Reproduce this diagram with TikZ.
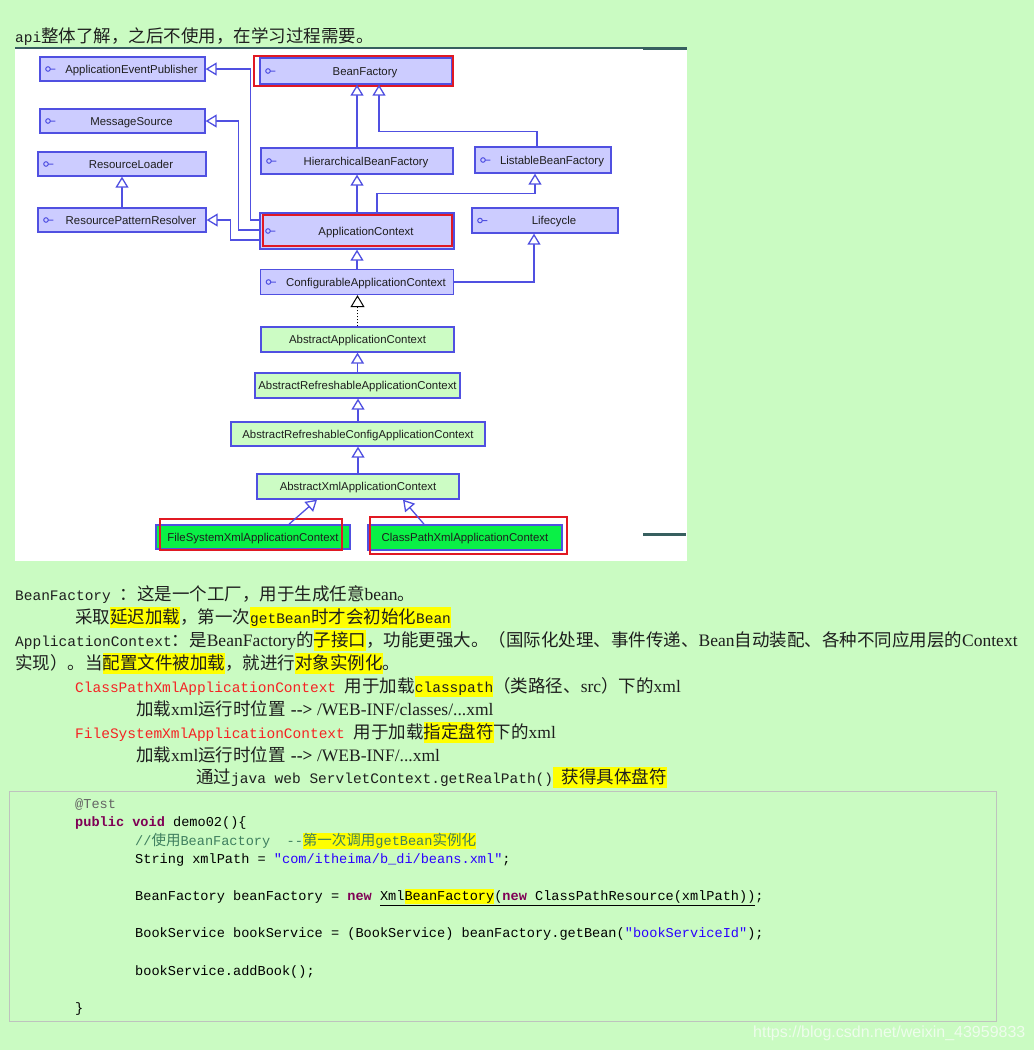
\documentclass[tikz,border=0pt]{standalone}
\usepackage{fontspec}
\setmainfont{Liberation Serif}
\newfontfamily\cjkf{Noto Sans CJK SC}
\newfontfamily\monof{Liberation Mono}
\newfontfamily\dsansf{Liberation Sans}
\usetikzlibrary{arrows.meta}
\definecolor{pagebg}{RGB}{202,251,194}
\definecolor{ifill}{RGB}{204,204,255}
\definecolor{bbord}{RGB}{80,80,225}
\definecolor{cfill}{RGB}{204,252,196}
\definecolor{gfill}{RGB}{10,240,70}
\definecolor{rbox}{RGB}{225,25,35}
\definecolor{dtext}{RGB}{30,30,30}
\definecolor{teal1}{RGB}{55,95,95}
\definecolor{hly}{RGB}{255,255,0}
\definecolor{redt}{RGB}{245,35,35}
\definecolor{kwc}{RGB}{127,0,85}
\definecolor{cmt}{RGB}{63,127,95}
\definecolor{strc}{RGB}{42,0,255}
\definecolor{anno}{RGB}{100,100,100}
\definecolor{cbord}{RGB}{190,195,190}
\definecolor{wmark}{RGB}{238,252,236}
\newcommand\tzh[1]{{\fontsize{17.5}{20}\selectfont\cjkf#1}}
\newcommand\tmo[1]{{\fontsize{14.5}{17}\selectfont\monof#1}}
\newcommand\tse[1]{{\fontsize{17.5}{20}\selectfont\rmfamily#1}}
\newcommand\hlt[1]{{\setlength\fboxsep{0pt}\colorbox{hly}{\rule[-5pt]{0pt}{21pt}#1}}}
\newcommand\czh[1]{{\fontsize{14.5}{16}\selectfont\cjkf#1}}
\newcommand\hlc[1]{{\setlength\fboxsep{0pt}\colorbox{hly}{\rule[-3pt]{0pt}{15pt}#1}}}
\newcommand\kw[1]{\textcolor{kwc}{\bfseries#1}}
\begin{document}
\begin{tikzpicture}[x=1pt,y=-1pt,
  iface/.style={draw=bbord, fill=ifill, line width=1.3pt, inner sep=0pt, text=dtext,
    text height=8pt, text depth=0pt,
    font=\dsansf\fontsize{11.4}{13}\selectfont,
    path picture={\draw[bbord,line width=1pt] ([xshift=8pt]path picture bounding box.west) circle[radius=2.3pt] ([xshift=10.3pt]path picture bounding box.west) -- ++(5pt,0pt);}},
  cls/.style={draw=bbord, fill=cfill, line width=1.3pt, inner sep=0pt, text=dtext,
    text height=8pt, text depth=0pt,
    font=\dsansf\fontsize{11.4}{13}\selectfont},
  leaf/.style={cls, fill=gfill, line width=1.6pt},
  inh/.style={draw=bbord, line width=1.3pt, -{Triangle[length=11pt,width=13pt,fill=white]}},
  impl/.style={draw=black, line width=1pt, dash pattern=on 1pt off 2pt, -{Triangle[length=12pt,width=14pt,fill=white]}},
  hlbox/.style={draw=rbox, line width=2.2pt},
  txt/.style={anchor=base west, inner sep=0pt, text=dtext},
  code/.style={anchor=base west, inner sep=0pt, text=black, font=\fontsize{13.6}{16}\selectfont\monof},
]
\fill[pagebg] (0,0) rectangle (1034,1050);
\useasboundingbox (0,0) rectangle (1034,1050);

% diagram panel
\fill[white] (15,47) rectangle (687,561);
\draw[teal1, line width=1.3pt] (15,48) -- (687,48);
\draw[teal1, line width=3pt] (643,48) -- (687,48);
\draw[teal1, line width=3pt] (643,534) -- (686,534);

% interfaces
\node[iface, minimum width=165pt, minimum height=24pt] (aep) at (122.5,69) {\hspace*{18pt}ApplicationEventPublisher};
\node[iface, minimum width=192pt, minimum height=26pt] (bf) at (356,71) {\hspace*{18pt}BeanFactory};
\node[iface, minimum width=165pt, minimum height=24pt] (ms) at (122.5,121) {\hspace*{18pt}MessageSource};
\node[iface, minimum width=168pt, minimum height=24pt] (rl) at (122,164) {\hspace*{18pt}ResourceLoader};
\node[iface, minimum width=192pt, minimum height=26pt] (hbf) at (357,161) {\hspace*{18pt}HierarchicalBeanFactory};
\node[iface, minimum width=136pt, minimum height=26pt] (lbf) at (543,160) {\hspace*{18pt}ListableBeanFactory};
\node[iface, minimum width=168pt, minimum height=24pt] (rpr) at (122,220) {\hspace*{18pt}ResourcePatternResolver};
\node[iface, minimum width=194pt, minimum height=36pt] (ac) at (357,231) {\hspace*{18pt}ApplicationContext};
\node[iface, minimum width=146pt, minimum height=25pt] (lc) at (545,220.5) {\hspace*{18pt}Lifecycle};
\node[iface, minimum width=193pt, minimum height=25pt] (cac) at (357,282) {\hspace*{18pt}ConfigurableApplicationContext};

% classes
\node[cls, minimum width=193pt, minimum height=25pt] (aac) at (357.5,339.5) {AbstractApplicationContext};
\node[cls, minimum width=205pt, minimum height=25pt] (arac) at (357.5,385.5) {AbstractRefreshableApplicationContext};
\node[cls, minimum width=254pt, minimum height=24pt] (arcac) at (358,434) {AbstractRefreshableConfigApplicationContext};
\node[cls, minimum width=202pt, minimum height=25pt] (axac) at (358,486.5) {AbstractXmlApplicationContext};
\node[leaf, minimum width=194pt, minimum height=24pt] (fs) at (253,537) {FileSystemXmlApplicationContext};
\node[leaf, minimum width=194pt, minimum height=25pt] (cp) at (465,537.5) {ClassPathXmlApplicationContext};

% red highlight frames
\draw[hlbox] (254,56) rectangle (453,86);
\draw[hlbox] (263,215) rectangle (452,246);
\draw[hlbox] (160,519) rectangle (342,550);
\draw[hlbox] (370,517) rectangle (567,554);

% connectors
\draw[inh] (hbf.north) -- (hbf.north |- bf.south);
\draw[inh] ([xshift=-6pt]lbf.north) -- ++(0,-15) -| ([xshift=23pt]bf.south);
\draw[inh] (ac.north) -- (ac.north |- hbf.south);
\draw[inh] ([xshift=20pt]ac.north) -- ++(0,-19) -| ([xshift=-8pt]lbf.south);
\draw[inh] ([yshift=11pt]ac.west) -- ++(-9,0) |- (aep.east);
\draw[inh] ([yshift=1pt]ac.west) -- ++(-21,0) |- (ms.east);
\draw[inh] ([yshift=-9pt]ac.west) -- ++(-29,0) |- (rpr.east);
\draw[inh] (rpr.north) -- (rpr.north |- rl.south);
\draw[inh] (cac.north) -- (cac.north |- ac.south);
\draw[inh] (cac.east) -| ([xshift=-11pt]lc.south);
\draw[impl] (aac.north) -- (aac.north |- cac.south);
\draw[inh] (arac.north) -- (arac.north |- aac.south);
\draw[inh] (arcac.north) -- (arcac.north |- arac.south);
\draw[inh] (axac.north) -- (axac.north |- arcac.south);
\draw[inh] ([xshift=36pt]fs.north) -- ([xshift=-41pt]axac.south);
\draw[inh] ([xshift=-41pt]cp.north) -- ([xshift=45pt]axac.south);

% body text
\node[txt] (l1) at (15,42) {\tmo{api}\tzh{整体了解，之后不使用，在学习过程需要。}};
\node[txt] (l2) at (15,600) {\tmo{BeanFactory}\hspace{8.7pt}\tzh{：这是一个工厂，用于生成任意}\tse{bean}\tzh{。}};
\node[txt] (l3) at (75,623) {\tzh{采取}\hlt{\tzh{延迟加载}}\tzh{，第一次}\hlt{\tmo{getBean}\tzh{时才会初始化}\tmo{Bean}}};
\node[txt] (l4) at (15,646) {\tmo{ApplicationContext}\tzh{：是}\tse{BeanFactory}\tzh{的}\hlt{\tzh{子接口}}\tzh{，功能更强大。（国际化处理、事件传递、}\tse{Bean}\tzh{自动装配、各种不同应用层的}\tse{Context}};
\node[txt] (l5) at (15,669) {\tzh{实现）。当}\hlt{\tzh{配置文件被加载}}\tzh{，就进行}\hlt{\tzh{对象实例化}}\tzh{。}};
\node[txt] (l6) at (75,692) {\textcolor{redt}{\tmo{ClassPathXmlApplicationContext}}\hspace{8.7pt}\tzh{用于加载}\hlt{\tmo{classpath}}\tzh{（类路径、}\tse{src}\tzh{）下的}\tse{xml}};
\node[txt] (l7) at (136,715) {\tzh{加载}\tse{xml}\tzh{运行时位置}\hspace{5pt}\tse{\textbf{-\kern0pt-\kern0pt>}\hspace{4.5pt}/WEB-INF/classes/...xml}};
\node[txt] (l8) at (75,738) {\textcolor{redt}{\tmo{FileSystemXmlApplicationContext}}\hspace{8.7pt}\tzh{用于加载}\hlt{\tzh{指定盘符}}\tzh{下的}\tse{xml}};
\node[txt] (l9) at (136,761) {\tzh{加载}\tse{xml}\tzh{运行时位置}\hspace{5pt}\tse{\textbf{-\kern0pt-\kern0pt>}\hspace{4.5pt}/WEB-INF/...xml}};
\node[txt] (l10) at (196,783) {\tzh{通过}\tmo{java web ServletContext.getRealPath()}\hlt{\hspace{8.7pt}\tzh{获得具体盘符}}};

% code box
\draw[cbord, line width=1pt] (9,791) rectangle (996,1021);
\node[code] (c1) at (75,808.5) {\textcolor{anno}{@Test}};
\node[code] (c2) at (75,826.5) {\kw{public}\ \kw{void}\ demo02()\{};
\node[code] (c3) at (135,845.5) {\textcolor{cmt}{//\czh{使用}BeanFactory\ \ --\hlc{\czh{第一次调用}getBean\czh{实例化}}}};
\node[code] (c4) at (135,863.5) {String xmlPath = \textcolor{strc}{"com/itheima/b\_di/beans.xml"};};
\node[code] (c5) at (135,900.5) {BeanFactory beanFactory = \kw{new}\ \underline{Xml\hlc{BeanFactory}(\kw{new}\ ClassPathResource(xmlPath))};};
\node[code] (c6) at (135,937.5) {BookService bookService = (BookService) beanFactory.getBean(\textcolor{strc}{"bookServiceId"});};
\node[code] (c7) at (135,975) {bookService.addBook();};
\node[code] (c8) at (75,1012) {\}};

% watermark
\node[anchor=base west, inner sep=0pt, text=wmark, font=\dsansf\fontsize{16}{18}\selectfont] (wm) at (753,1037) {https://blog.csdn.net/weixin\_43959833};
\end{tikzpicture}
\end{document}
